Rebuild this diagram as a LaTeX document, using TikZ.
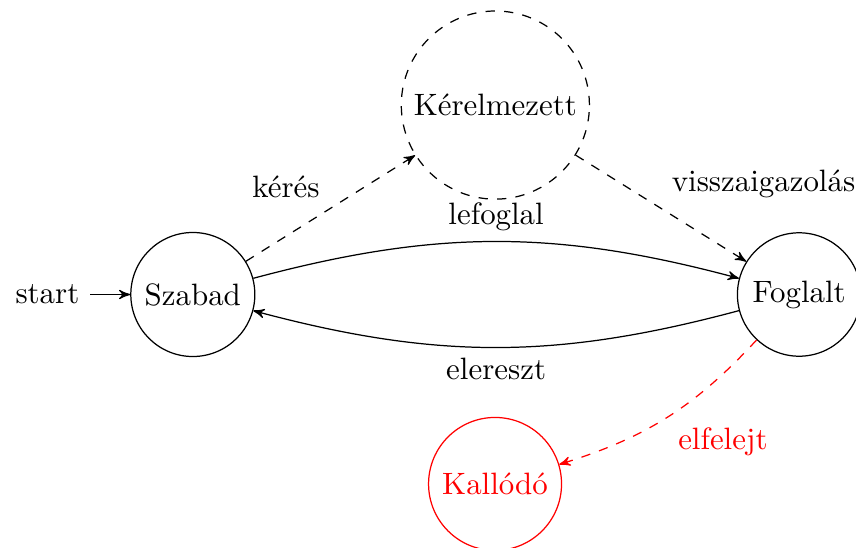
\documentclass[tikz,border=0pt]{standalone}
\usepackage{fontspec}
\usetikzlibrary{arrows,positioning}
\begin{document}
\begin{tikzpicture}[
  >=stealth',
  statenode/.style={circle,draw,thin},
  trans/.style={->,thin},
  lbl/.style={auto}
]
\useasboundingbox (0,0) rectangle (277pt,-177.3pt);

% states
\node[statenode] (szabad) at (62.4pt,-95.3pt) {Szabad};
\node[statenode] (foglalt) at (258.6pt,-95.3pt) {Foglalt};
\node[statenode,dashed] (kerelmezett) at (160.3pt,-34pt) {Kérelmezett};
\node[statenode,red] (kallodo) at (160.2pt,-156.6pt) {Kallódó};

% initial marker
\node (start) [left=3ex of szabad] {start};
\draw[trans] (start) -- (szabad);

% transitions
\draw[trans,dashed] (szabad) -- node[lbl] {kérés} (kerelmezett);
\draw[trans,dashed] (kerelmezett) -- node[lbl] {visszaigazolás} (foglalt);
\draw[trans] (szabad) to[bend left=15] node[lbl] {lefoglal} (foglalt);
\draw[trans] (foglalt) to[bend left=15] node[lbl] {elereszt} (szabad);
\draw[trans,dashed,red] (foglalt) to[bend left=15] node[lbl] {elfelejt} (kallodo);
\end{tikzpicture}
\end{document}
